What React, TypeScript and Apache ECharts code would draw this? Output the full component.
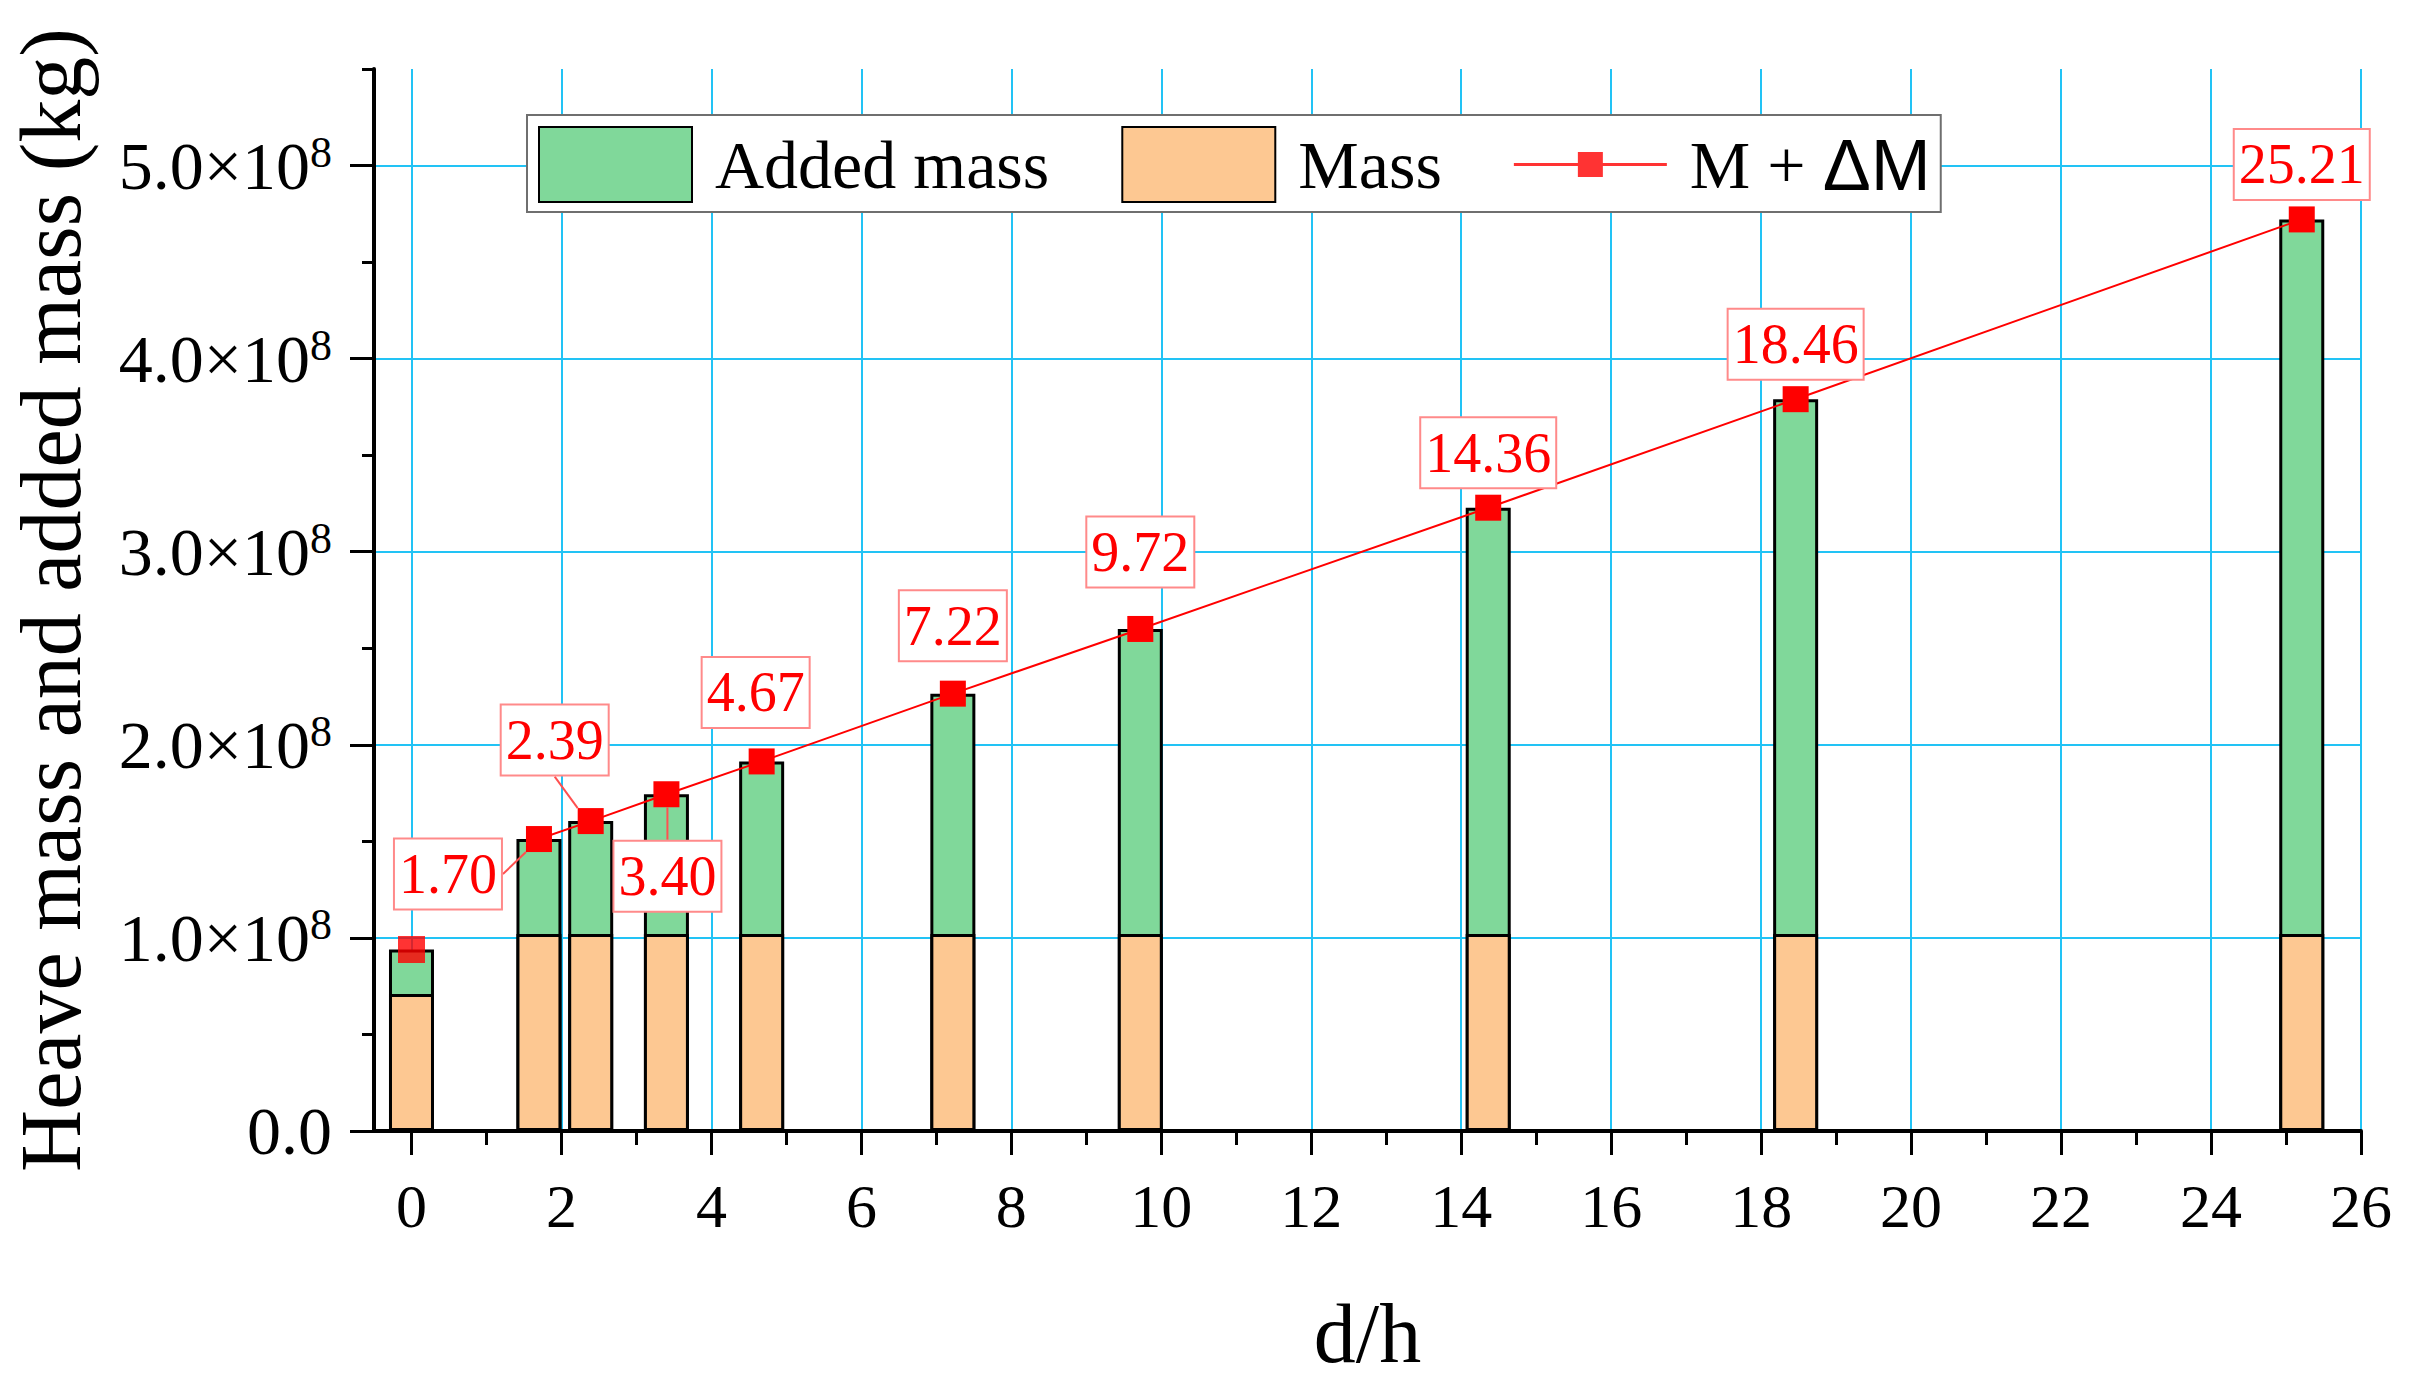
import { useEffect, useRef } from 'react';
import * as echarts from 'echarts';

// d/h of each case (also the value shown in the red boxes)
const dh = [0, 1.7, 2.39, 3.4, 4.67, 7.22, 9.72, 14.36, 18.46, 25.21];
// heave mass M (kg)
const mass = [0.71e8, 1.02e8, 1.02e8, 1.02e8, 1.02e8, 1.02e8, 1.02e8, 1.02e8, 1.02e8, 1.02e8];
// M + added mass (kg)
const total = [0.94e8, 1.512e8, 1.605e8, 1.744e8, 1.914e8, 2.265e8, 2.6e8, 3.228e8, 3.79e8, 4.721e8];

const xMajorTicks = [0, 2, 4, 6, 8, 10, 12, 14, 16, 18, 20, 22, 24, 26];
const xMinorTicks = [1, 3, 5, 7, 9, 11, 13, 15, 17, 19, 21, 23, 25];
const yMajorTicks = [0, 1e8, 2e8, 3e8, 4e8, 5e8];
const yMinorTicks = [0.5e8, 1.5e8, 2.5e8, 3.5e8, 4.5e8, 5.5e8];

// where each value box sits relative to its marker (px)
const labelShift: (number[] | null)[] = [
    null, [-91, 35], [-36, -81], [1, 82], [-6, -69], [0, -68], [0, -77], [0, -55], [0, -55], [0, -55],
];
const withLeader = [1, 2, 3];

const SERIF = '"Liberation Serif", "Times New Roman", serif';
const SANS = '"Liberation Sans", Arial, sans-serif';
const GRID_BLUE = '#22C3F5';
const RED = '#FF0000';
const LINE_ICON = 'path://M0,0 M153,75 M0,36 L153,36 L153,39 L0,39 Z M64,25 L89,25 L89,50 L64,50 Z';

export default function App() {
    const chartRef = useRef<HTMLDivElement>(null);

    useEffect(() => {
        if (!chartRef.current) return;
        document.body.style.margin = '0';
        const chart = echarts.init(chartRef.current, null, { renderer: 'svg' });

        const boxLabel = {
            show: true,
            position: 'inside',
            formatter: (p: any) => Number(p.value[0]).toFixed(2),
            color: RED,
            fontSize: 56,
            fontFamily: SERIF,
            lineHeight: 60,
            backgroundColor: '#fff',
            borderColor: '#FF8A8A',
            borderWidth: 2,
            padding: [5, 4, 4, 4],
        };

        const option = {
            animation: false,
            backgroundColor: '#fff',
            textStyle: { fontFamily: SERIF },
            grid: { left: 373, right: 48, top: 69, bottom: 246, containLabel: false },
            legend: {
                left: 527,
                top: 115,
                orient: 'horizontal',
                itemWidth: 153,
                itemHeight: 75,
                itemGap: 72,
                padding: [11, 10, 9, 11],
                backgroundColor: '#fff',
                borderColor: '#6f6f6f',
                borderWidth: 2,
                selectedMode: false,
                data: [
                    { name: 'Added mass', icon: 'rect' },
                    { name: 'Mass', icon: 'rect' },
                    { name: 'M + ΔM', icon: LINE_ICON },
                ],
                formatter: (name: string) => (name === 'M + ΔM' ? '{s|M + }{d|ΔM}' : name),
                textStyle: {
                    fontSize: 68,
                    fontFamily: SERIF,
                    color: '#000',
                    padding: [0, 0, 0, 18],
                    rich: {
                        s: { fontSize: 68, fontFamily: SERIF, color: '#000' },
                        d: { fontSize: 72, fontFamily: SANS, color: '#000' },
                    },
                },
            },
            xAxis: [
                {
                    type: 'value',
                    min: -0.5,
                    max: 26,
                    position: 'bottom',
                    name: 'd/h',
                    nameLocation: 'middle',
                    nameGap: 160,
                    nameTextStyle: { fontSize: 84, fontFamily: SERIF, color: '#000' },
                    axisLine: { show: true, onZero: false, lineStyle: { color: '#000', width: 4 } },
                    axisTick: { show: true, customValues: xMajorTicks, length: 24, lineStyle: { color: '#000', width: 3 } },
                    axisLabel: { fontFamily: SERIF, color: '#000', customValues: xMajorTicks, fontSize: 62, margin: 44 },
                    splitLine: { show: true, lineStyle: { color: GRID_BLUE, width: 2 } },
                },
                {
                    type: 'value',
                    min: -0.5,
                    max: 26,
                    position: 'bottom',
                    axisLine: { show: false, onZero: false },
                    axisTick: { show: true, customValues: xMinorTicks, length: 14, lineStyle: { color: '#000', width: 3 } },
                    axisLabel: { show: false },
                    splitLine: { show: false },
                },
            ],
            yAxis: [
                {
                    type: 'value',
                    min: 0,
                    max: 5.5e8,
                    position: 'left',
                    name: 'Heave mass and added mass (kg)',
                    nameLocation: 'middle',
                    nameGap: 280,
                    nameTextStyle: { fontSize: 86, fontFamily: SERIF, color: '#000' },
                    axisLine: { show: true, onZero: false, lineStyle: { color: '#000', width: 4 } },
                    axisTick: { show: true, customValues: yMajorTicks, length: 24, lineStyle: { color: '#000', width: 3 } },
                    axisLabel: {
                        customValues: yMajorTicks,
                        margin: 42,
                        formatter: (v: number) =>
                            v === 0 ? '{n|0.0}' : `{n|${(v / 1e8).toFixed(1)}×10}{s|8}`,
                        rich: {
                            n: { fontSize: 68, fontFamily: SERIF, color: '#000', lineHeight: 70 },
                            s: { fontSize: 44, fontFamily: SERIF, color: '#000', verticalAlign: 'top' },
                        },
                    },
                    splitLine: { show: true, lineStyle: { color: GRID_BLUE, width: 2 } },
                },
                {
                    type: 'value',
                    min: 0,
                    max: 5.5e8,
                    position: 'left',
                    axisLine: { show: false, onZero: false },
                    axisTick: { show: true, customValues: yMinorTicks, length: 12, lineStyle: { color: '#000', width: 3 } },
                    axisLabel: { show: false },
                    splitLine: { show: false },
                },
            ],
            series: [
                {
                    name: 'Added mass',
                    type: 'bar',
                    barWidth: 45,
                    barGap: '-100%',
                    data: dh.map((x, i) => [x, total[i]]),
                    itemStyle: { color: '#80D89A', borderColor: '#000', borderWidth: 3 },
                },
                {
                    name: 'Mass',
                    type: 'bar',
                    barWidth: 45,
                    barGap: '-100%',
                    data: dh.map((x, i) => [x, mass[i]]),
                    itemStyle: { color: '#FDC892', borderColor: '#000', borderWidth: 3 },
                },
                {
                    // the d/h = 0 case stands alone, not joined to the line
                    name: 'M + ΔM',
                    type: 'scatter',
                    symbol: 'rect',
                    symbolSize: 27,
                    z: 5,
                    itemStyle: { color: RED, borderWidth: 0 },
                    data: [[dh[0], total[0]]],
                },
                {
                    name: 'M + ΔM',
                    type: 'line',
                    symbol: 'rect',
                    symbolSize: 26,
                    z: 5,
                    lineStyle: { color: RED, width: 2 },
                    itemStyle: { color: RED, borderWidth: 0 },
                    label: boxLabel,
                    labelLayout: (params: any) => {
                        const s = labelShift[params.dataIndex + 1];
                        return s ? { dx: s[0], dy: s[1] } : {};
                    },
                    data: dh.slice(1).map((x, k) => {
                        const i = k + 1;
                        const item: any = { value: [x, total[i]] };
                        if (withLeader.includes(i)) {
                            item.labelLine = { show: true, showAbove: true, lineStyle: { color: '#FF5050', width: 2 } };
                        }
                        return item;
                    }),
                },
            ],
        };

        chart.setOption(option as any);

        return () => {
            chart.dispose();
        };
    }, []);

    return <div ref={chartRef} style={{ width: 2409, height: 1380 }} />;
}
